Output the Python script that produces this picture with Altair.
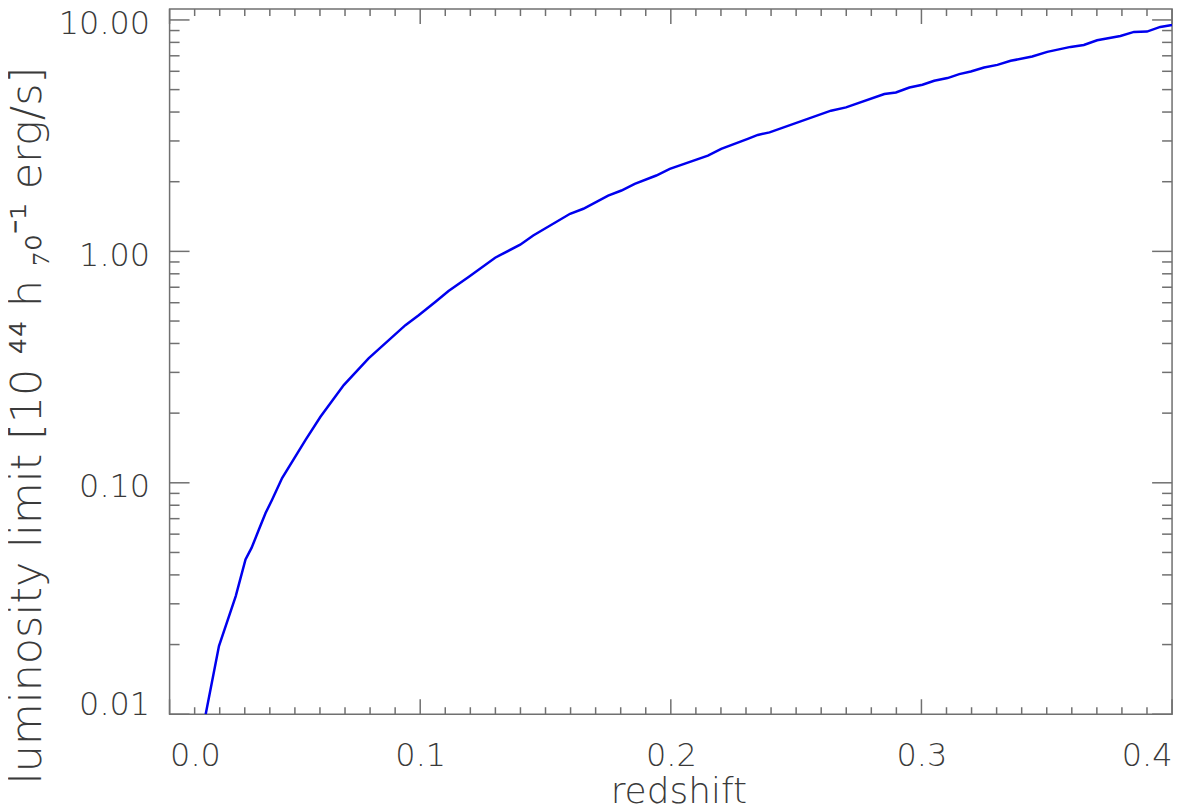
import altair as alt
import pandas as pd

# curve
redshift = [0.0144, 0.0197, 0.0264, 0.0303, 0.0327, 0.0356, 0.0383, 0.0409, 0.0449,
            0.0542, 0.0602, 0.0695, 0.0794, 0.0941, 0.0994, 0.1060, 0.1113, 0.1193,
            0.1299, 0.1399, 0.1451, 0.1598, 0.1651, 0.1750, 0.1803, 0.1856, 0.1942,
            0.1996, 0.2148, 0.2201, 0.2307, 0.2347, 0.2394, 0.2639, 0.2699, 0.2852,
            0.2898, 0.2952, 0.3004, 0.3051, 0.3104, 0.3151, 0.3197, 0.3250, 0.3303,
            0.3356, 0.3442, 0.3502, 0.3595, 0.3648, 0.3701, 0.3794, 0.3848, 0.3900,
            0.3953, 0.4000]
lum_limit = [0.0100, 0.0197, 0.0324, 0.0466, 0.0523, 0.0627, 0.0740, 0.0845, 0.1048,
             0.153, 0.193, 0.2645, 0.345, 0.480, 0.530, 0.6045, 0.674, 0.775,
             0.939, 1.069, 1.172, 1.454, 1.528, 1.743, 1.832, 1.958, 2.127,
             2.273, 2.593, 2.771, 3.061, 3.185, 3.268, 4.054, 4.189, 4.783,
             4.860, 5.108, 5.247, 5.460, 5.608, 5.835, 5.988, 6.230, 6.397,
             6.658, 6.948, 7.280, 7.648, 7.801, 8.175, 8.531, 8.878, 8.905,
             9.329, 9.516]

x_major = [0.0, 0.1, 0.2, 0.3, 0.4]
x_minor = [round(i * 0.01, 2) for i in range(41) if i % 10 != 0]
y_major = [0.01, 0.1, 1.0, 10.0]
y_minor = [k * d for d in (0.01, 0.1, 1.0) for k in range(2, 10)]

W, H = 1005, 707
AX = "#707070"
TXT = "#3a3a3a"
FONT = "DejaVu Sans"

xs = alt.Scale(domain=[0, 0.4], nice=False, zero=False)
ys = alt.Scale(type="log", domain=[0.01, 11.15], nice=False)

curve_df = pd.DataFrame({"z": redshift, "L": lum_limit})

label_expr = ("datum.value >= 9.99 ? '10.00' : datum.value >= 0.999 ? '1.00' : "
              "datum.value >= 0.0999 ? '0.10' : '0.01'")

curve = alt.Chart(curve_df).mark_line(color="#0000ee", strokeWidth=2.5, clip=True).encode(
    x=alt.X("z:Q", scale=xs,
            axis=alt.Axis(values=x_major, format=".1f", ticks=False, tickSize=0, domain=False,
                          grid=False, labelPadding=26, labelFontSize=32, labelColor=TXT,
                          labelFont=FONT, labelFontWeight=200, title="redshift",
                          titleFontSize=36, titleFont=FONT, titleFontWeight=200,
                          titleColor=TXT, titleBaseline="alphabetic", titleAlign="center",
                          titleX=510, titleY=88)),
    y=alt.Y("L:Q", scale=ys,
            axis=alt.Axis(values=y_major, labelExpr=label_expr, ticks=False, tickSize=0,
                          domain=False, grid=False, labelPadding=20, labelFontSize=32,
                          labelColor=TXT, labelFont=FONT, labelFontWeight=200,
                          labelBaseline={"condition": {"test": "datum.value < 0.02",
                                                       "value": "alphabetic"},
                                         "value": "middle"},
                          labelOffset={"condition": {"test": "datum.value < 0.02", "value": 0},
                                       "value": 4},
                          title="luminosity limit [10 ⁴⁴ h ₇₀⁻¹ erg/s]", titleFontSize=43,
                          titleFont=FONT, titleFontWeight=200, titleColor=TXT,
                          titleAngle=270, titleBaseline="alphabetic", titleAlign="center",
                          titleX=-129, titleY=417)),
)


def yticks(vals, length):
    df = pd.DataFrame({"L": vals})
    left = alt.Chart(df).mark_rule(color=AX, strokeWidth=1.5).encode(
        y=alt.Y("L:Q", scale=ys), x=alt.value(0), x2=alt.value(length))
    right = alt.Chart(df).mark_rule(color=AX, strokeWidth=1.5).encode(
        y=alt.Y("L:Q", scale=ys), x=alt.value(W), x2=alt.value(W - length))
    return [left, right]


def xticks(vals, length):
    df = pd.DataFrame({"z": vals})
    bottom = alt.Chart(df).mark_rule(color=AX, strokeWidth=1.5).encode(
        x=alt.X("z:Q", scale=xs), y=alt.value(H), y2=alt.value(H - length))
    top = alt.Chart(df).mark_rule(color=AX, strokeWidth=1.5).encode(
        x=alt.X("z:Q", scale=xs), y=alt.value(0), y2=alt.value(length))
    return [bottom, top]


layers = [curve] + yticks(y_major, 20) + yticks(y_minor, 10) + xticks(x_major, 15) + xticks(x_minor, 7)

chart = alt.layer(*layers).properties(
    width=W, height=H,
    autosize=alt.AutoSizeParams(type="none"),
    padding={"left": 162, "top": 0, "right": 20, "bottom": 94},
).configure(background="white").configure_view(stroke=AX, strokeWidth=1.5)

chart.save("out.html", embed_options={"renderer": "svg", "actions": False})
